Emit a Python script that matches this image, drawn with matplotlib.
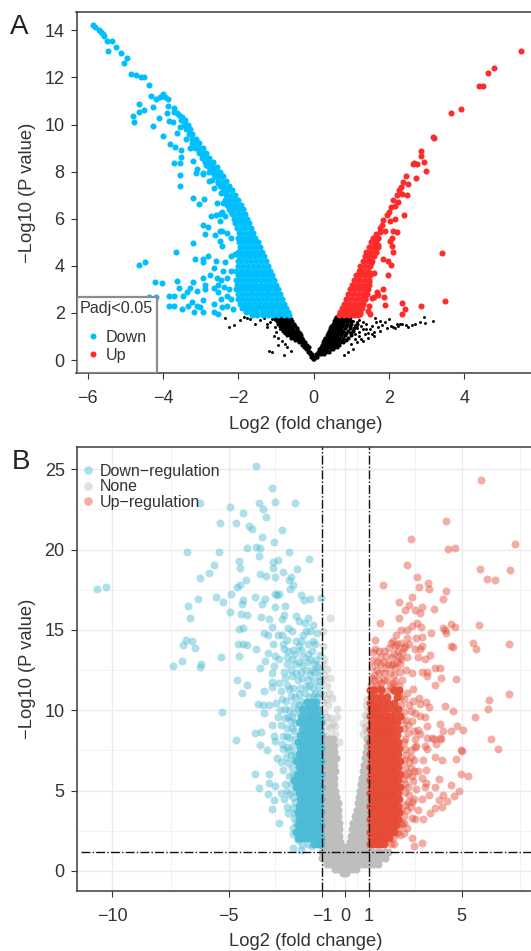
import numpy as np
import matplotlib
matplotlib.use("Agg")
import matplotlib.pyplot as plt
from matplotlib.lines import Line2D
from matplotlib.patches import Rectangle

plt.rcParams["font.family"] = ["Liberation Sans", "DejaVu Sans"]

# Panel A: values (x, y)
a_down_points = [(-5.87,14.23),(-5.8,14.15),(-5.71,14.01),(-5.65,13.95),(-5.6,13.84),(-5.57,13.75),(-5.49,13.56),(-5.36,13.56),(-5.47,13.13),(-5.25,13.3),
    (-5.11,13.05),(-4.96,12.84),(-5.04,12.6),(-4.85,12.16),(-4.71,12.09),(-4.58,12.04),(-4.52,12.0),(-4.38,11.7),(-4.32,11.22),(-4.18,11.1),
    (-3.99,11.3),(-4.08,11.15),(-3.87,11.08),(-3.95,11.18),(-3.86,10.79),(-3.72,10.69),(-3.63,10.48),(-3.5,10.33),(-3.7,10.55),(-3.57,10.42),
    (-4.63,10.87),(-4.81,10.38),(-4.77,10.11),(-4.63,10.52),(-4.52,10.6),(-4.28,10.74),(-4.28,9.94),(-4.1,10.26),(-3.9,10.47),(-3.84,10.16),
    (-3.75,10.11),(-4.0,9.51),(-3.64,9.63),(-3.54,9.88),(-3.81,9.17),(-3.68,9.06),(-3.52,8.9),(-3.52,8.61),(-3.55,8.38),(-3.72,8.37),
    (-3.55,7.86),(-3.55,7.4),(-3.21,8.44),(-3.1,8.1),(-3.12,7.95),(-3.21,6.89),(-3.04,6.62),(-2.91,6.85),(-3.4,9.4),(-3.28,9.0),
    (-2.93,7.9),(-2.77,7.6),(-2.64,7.3),(-2.47,7.1),(-2.56,6.65),(-2.4,6.65),(-2.43,6.3),(-2.72,6.1),(-2.5,6.2),(-2.2,6.3),
    (-3.05,8.9),(-2.95,8.6),(-2.85,8.3),(-2.95,7.95),(-2.78,8.0),(-2.65,7.9),(-2.7,7.65),(-2.55,7.5),(-2.6,6.15),(-2.35,6.1),
    (-4.64,4.03),(-4.48,4.15),(-3.66,4.6),(-4.21,3.3),(-4.02,3.26),(-4.37,2.69),(-4.18,2.66),(-3.85,2.73),(-3.72,2.73),(-3.84,2.29),
    (-3.72,2.3),(-3.5,2.15),(-3.62,3.36),(-3.57,3.07),(-3.46,2.72),(-3.37,2.9),(-3.28,3.04),(-3.21,3.32),(-3.11,2.94),(-3.24,2.47),
    (-3.33,2.3),(-3.17,2.05),(-3.11,2.3),(-3.01,2.27),(-2.93,2.55),(-2.93,2.02),(-2.9,3.2),(-2.93,3.5),(-3.15,4.3),(-3.2,4.96),
    (-2.93,4.15),(-2.95,4.28),(-2.82,4.42),(-2.59,4.22),(-2.66,3.9),(-2.75,3.6),(-2.58,3.47),(-2.66,3.05),(-2.88,3.0),(-2.53,2.9),
    (-2.66,2.4),(-2.66,2.05),(-2.53,1.95),(-2.44,2.25),(-2.38,3.1),(-2.4,3.8),(-2.36,4.15),(-2.2,4.4),(-2.94,5.73),(-2.81,5.65),
    (-2.88,5.35),(-2.62,5.3),(-2.5,5.5),(-2.44,5.5),(-2.3,5.4),(-2.5,5.05),(-2.43,4.85),(-2.2,5.2),(-2.5,5.9),(-2.1,4.5),
    (-2.3,3.5),(-2.25,3.0),(-2.2,2.6),(-2.3,2.3),(-2.15,2.15),(-2.45,3.4),(-2.55,3.2),(-2.2,3.8),(-2.45,2.6),(-2.3,2.7)]

a_down_rows = [(1.9,[-.66,-.8,-.94,-1.08,-1.22,-1.36,-1.5,-1.64]),(2.05,[-.68,-.82,-.96,-1.1,-1.24,-1.38,-1.52,-1.66,-1.8]),
    (2.2,[-.73,-.86,-.99,-1.12,-1.25,-1.38,-1.51,-1.64,-1.77,-1.9]),(2.4,[-.78,-.91,-1.04,-1.17,-1.3,-1.43,-1.56,-1.69,-1.82,-1.95]),
    (2.6,[-.84,-.97,-1.1,-1.23,-1.36,-1.49,-1.62,-1.75,-1.88,-2.0]),(2.8,[-.89,-1.02,-1.15,-1.28,-1.41,-1.54,-1.67,-1.8,-1.93,-2.02]),
    (3.0,[-.95,-1.08,-1.21,-1.34,-1.47,-1.6,-1.73,-1.86,-1.99,-2.07]),(3.2,[-1.0,-1.13,-1.26,-1.39,-1.52,-1.65,-1.78,-1.91,-2.04]),
    (3.4,[-1.05,-1.18,-1.31,-1.44,-1.57,-1.7,-1.83,-1.96,-2.07]),(3.6,[-1.11,-1.24,-1.37,-1.5,-1.63,-1.76,-1.89,-2.02]),
    (3.8,[-1.16,-1.29,-1.42,-1.55,-1.68,-1.81,-1.94,-2.06]),(4.0,[-1.22,-1.35,-1.48,-1.61,-1.74,-1.87,-2.0]),
    (4.2,[-1.27,-1.4,-1.53,-1.66,-1.79,-1.92,-2.02]),(4.4,[-1.33,-1.46,-1.59,-1.72,-1.85,-1.98]),
    (4.6,[-1.38,-1.51,-1.64,-1.77,-1.9,-2.01]),(4.8,[-1.44,-1.57,-1.7,-1.83,-1.95]),(5.0,[-1.49,-1.62,-1.75,-1.88,-1.98]),
    (5.2,[-1.55,-1.68,-1.81,-1.94,-2.02]),(5.4,[-1.6,-1.73,-1.86,-1.98]),(5.6,[-1.66,-1.79,-1.92,-2.05]),(5.8,[-1.71,-1.84,-1.97,-2.08]),
    (6.0,[-1.77,-1.9,-2.03,-2.12]),(6.2,[-1.82,-1.95,-2.08,-2.18]),(6.4,[-1.88,-2.01,-2.14,-2.25]),(6.6,[-1.94,-2.07,-2.2,-2.3]),
    (6.8,[-2.0,-2.13,-2.26,-2.36]),(7.0,[-2.08,-2.21,-2.34]),(7.2,[-2.16,-2.29,-2.42]),(7.4,[-2.24,-2.37,-2.48]),(7.6,[-2.32,-2.45,-2.55]),
    (7.8,[-2.4,-2.53,-2.62]),(8.0,[-2.48,-2.6,-2.7]),(8.2,[-2.57,-2.68,-2.78]),(8.4,[-2.67,-2.78,-2.88]),(8.6,[-2.77,-2.87,-2.97]),
    (8.8,[-2.86,-2.97,-3.06]),(9.0,[-2.95,-3.06,-3.15]),(9.2,[-3.04,-3.14,-3.24]),(9.4,[-3.13,-3.23]),(9.6,[-3.22,-3.32]),(9.8,[-3.28,-3.38]),
    (10.0,[-3.35,-3.45]),(10.2,[-3.43,-3.53])]

a_up_points = [(5.5,13.12),(4.8,12.4),(4.63,12.19),(4.38,11.63),(4.5,11.63),(3.91,10.67),(3.65,10.47),(3.16,9.48),(3.19,9.43),(2.85,8.89),
    (2.85,8.67),(2.92,8.41),(2.63,8.32),(2.67,8.35),(2.73,8.31),(2.99,8.04),(2.71,7.74),(2.44,7.83),(2.38,7.56),(2.51,7.47),
    (2.33,7.35),(2.27,7.2),(2.49,7.03),(2.2,7.0),(2.35,7.05),(2.1,6.8),(2.25,6.7),(2.17,6.55),(2.05,6.5),(2.0,6.3),
    (2.4,6.14),(2.16,5.97),(1.94,6.15),(1.85,5.95),(2.03,5.9),(1.8,5.75),(1.88,5.5),(1.75,5.45),(1.66,5.35),(2.1,5.5),
    (2.22,5.42),(2.07,5.2),(2.03,5.05),(2.09,4.85),(2.11,4.6),(3.41,4.53),(3.48,2.52),(1.83,4.27),(1.98,4.2),(2.04,4.05),
    (1.97,3.6),(1.6,3.7),(1.84,3.03),(1.67,2.9),(1.6,2.68),(1.86,2.68),(1.55,2.62),(1.72,2.75),(1.9,2.32),(2.35,2.42),
    (2.42,2.15),(2.34,1.95),(2.84,2.3),(1.48,2.3),(1.44,2.1),(1.5,1.95),(1.22,1.95),(1.27,2.2),(1.75,5.6),(1.7,5.2),
    (1.55,5.05),(1.62,5.0),(1.7,4.9),(1.65,4.6),(1.58,4.4),(1.52,4.1),(1.5,3.7),(1.48,3.3),(1.35,2.6),(1.4,2.8)]

a_up_rows = [(1.9,[.67,.8,.93,1.06,1.18]),(2.05,[.71,.84,.97,1.1,1.23]),(2.2,[.75,.88,1.01,1.14]),(2.4,[.81,.94,1.07,1.2,1.3]),
    (2.6,[.86,.99,1.12,1.25,1.36]),(2.8,[.92,1.05,1.18,1.31,1.42]),(3.0,[.97,1.1,1.23,1.36,1.45]),(3.2,[1.02,1.15,1.28,1.41,1.47]),
    (3.4,[1.08,1.21,1.34,1.47]),(3.6,[1.13,1.26,1.39,1.49]),(3.8,[1.19,1.32,1.45]),(4.0,[1.24,1.37,1.5]),(4.2,[1.3,1.43,1.56]),
    (4.4,[1.35,1.48,1.6]),(4.6,[1.4,1.53,1.66]),(4.8,[1.46,1.59,1.72]),(5.0,[1.52,1.65]),(5.2,[1.58,1.7])]

a_none_points = [(-2.36,1.8),(-2.24,1.4),(-2.12,1.5),(-1.97,1.7),(-1.84,1.83),(-1.78,1.78),(-1.7,1.75),(-1.55,1.55),(-1.42,1.7),(-1.33,1.77),
    (-1.24,1.55),(-1.24,1.4),(-1.06,1.0),(-.96,.65),(-1.2,.4),(-1.1,.35),(-.78,.2),(-.9,1.3),(-1.03,1.4),(-1.16,1.6),
    (-1.1,1.75),(-1.0,1.2),(-.95,.95),(-.85,.8),(-.75,.7),(-.7,.55),(-.6,.4),
    (3.18,1.66),(2.93,1.83),(2.95,1.58),(2.83,1.62),(2.7,1.55),(2.6,1.5),(2.44,1.5),(2.3,1.55),(2.2,1.55),
    (2.1,1.4),(1.95,1.35),(1.75,1.25),(1.6,1.2),(1.45,.95),(1.6,1.0),(2.0,1.75),(1.62,1.8),(1.8,1.5),(1.9,1.6),
    (2.05,1.45),(2.15,1.35),(2.25,1.45),(2.35,1.55),(2.5,1.42),(1.7,1.4),(1.55,1.45),(1.4,1.55),(1.3,1.6),(1.2,1.7),
    (1.5,1.3),(1.35,1.1),(1.25,.9),(1.4,1.3),(1.65,1.6),(1.75,1.65),(1.3,1.3),(1.2,1.2),(1.15,.75),(1.05,.45),(.9,.35),(.8,.2),
    (1.1,1.5),(1.15,1.35),(1.1,1.1),(1.2,1.0),(1.3,.8),(1.05,1.65),(1.15,1.6),(1.25,1.45),(1.45,1.15),(1.55,1.1),(1.1,.9),(1.0,.7)]

a_none_rows = [(.05,[-.02,.02]),(.15,[-.06,0,.06,.1]),(.25,[-.1,-.05,.07,.13,.2,.26]),(.35,[-.15,-.09,.12,.18,.25,.32,.4]),
    (.45,[-.2,-.14,.15,.22,.29,.36,.45,.52]),(.55,[-.26,-.19,-.13,.18,.25,.32,.39,.47,.55,.62]),(.65,[-.31,-.25,-.18,.21,.28,.35,.42,.5,.58,.68]),
    (.75,[-.38,-.31,-.24,.24,.31,.38,.45,.53,.61,.7,.78]),(.85,[-.5,-.42,-.35,-.28,.28,.35,.42,.49,.57,.65,.74,.85]),
    (.95,[-.6,-.52,-.45,-.38,-.31,.31,.38,.45,.52,.6,.68,.78,.9]),(1.05,[-.7,-.62,-.55,-.48,-.41,-.34,.34,.41,.48,.55,.63,.72,.84,.98]),
    (1.15,[-.76,-.68,-.6,-.52,-.44,-.37,.37,.44,.51,.58,.66,.75,.86,1.0]),(1.25,[-.82,-.74,-.66,-.58,-.5,-.41,.4,.47,.54,.61,.69,.78,.9,1.05]),
    (1.35,[-.86,-.78,-.7,-.62,-.54,-.45,.44,.51,.58,.65,.73,.82,.95,1.08]),(1.45,[-.9,-.82,-.74,-.66,-.58,-.49,.47,.54,.61,.68,.76,.85,.97,1.12]),
    (1.55,[-.94,-.86,-.78,-.7,-.62,-.53,.5,.57,.64,.71,.79,.88,1.0,1.15]),(1.65,[-.98,-.9,-.82,-.74,-.66,-.57,.54,.61,.68,.75,.82,.9,1.0]),
    (1.75,[-1.02,-.94,-.86,-.78,-.7,-.6,.57,.64,.71,.78,.85,.93]),(1.82,[-1.05,-.97,-.89,-.81,-.73,-.65,.6,.67,.74,.81,.88,.95])]

# Panel B: values (x, y)
b_down_points = [(-3.85,25.23),(-3.15,23.83),(-3.69,22.92),(-3.0,22.96),(-2.16,22.88),(-3.52,22.5),(-3.42,22.0),(-4.4,22.26),(-4.96,22.63),(-6.24,22.9),
    (-4.7,21.68),(-5.39,21.63),(-4.13,21.47),(-4.02,21.26),(-2.72,21.2),(-3.58,20.78),(-3.05,20.5),(-4.23,20.12),(-3.83,20.16),(-3.66,20.12),
    (-6.81,19.85),(-5.42,19.87),(-2.4,19.87),(-3.7,19.58),(-4.56,19.28),(-3.09,19.25),(-2.9,19.35),(-1.54,19.41),(-5.62,19.06),(-4.52,18.85),
    (-3.09,18.85),(-2.06,18.8),(-5.84,18.56),(-6.25,18.25),(-3.67,18.45),(-3.42,18.35),(-3.0,18.29),(-2.67,18.58),(-2.33,18.29),(-2.4,18.08),
    (-4.25,18.08),(-4.52,17.79),(-4.63,17.66),(-2.26,17.79),(-2.37,17.52),(-10.67,17.54),(-10.26,17.64),(-4.89,17.25),(-3.02,17.25),(-2.83,17.25),
    (-2.92,17.2),(-3.88,17.06),(-1.9,17.2),(-1.04,17.0),(-5.55,17.02),(-6.34,16.94),(-3.46,16.94),(-4.38,16.85),(-1.51,16.94),(-1.77,16.83),
    (-5.25,16.73),(-4.45,16.58),(-3.57,16.58),(-3.03,16.41),(-2.57,16.48),(-6.75,16.48),(-4.96,16.13),(-4.49,15.96),(-4.23,15.92),(-3.63,15.82),
    (-6.68,15.76),(-3.26,15.65),(-2.63,15.92),(-2.73,15.65),(-2.12,15.87),(-1.59,15.71),(-2.0,15.55),(-1.75,15.4),(-3.13,15.2),(-4.38,15.13),
    (-4.58,15.03),(-1.51,14.9),(-3.48,14.78),(-3.3,14.7),(-2.9,14.7),(-2.72,14.7),(-1.83,14.66),(-2.1,14.33),(-2.52,14.4),(-1.37,14.33),
    (-6.84,14.4),(-6.59,14.3),(-6.97,14.05),(-6.46,13.9),(-4.59,14.13),(-4.41,14.1),(-4.23,14.05),(-3.1,14.15),(-2.67,14.15),(-1.9,14.3),
    (-3.83,13.82),(-2.64,13.8),(-2.26,13.77),(-1.9,13.77),(-1.45,13.67),(-3.3,13.55),(-3.0,13.4),(-1.1,13.45),(-4.58,13.36),(-5.32,13.3),
    (-7.02,13.07),(-6.18,12.86),(-7.38,12.74),(-6.23,12.7),(-2.85,13.2),(-2.5,13.3),(-2.28,13.2),(-2.0,13.0),(-1.5,13.2),(-3.44,13.05),
    (-3.65,12.65),(-3.05,12.75),(-2.65,12.4),(-2.35,12.5),(-1.7,12.5),(-1.35,12.4),(-3.15,12.3),(-4.63,11.85),(-4.2,11.6),(-4.45,11.1),
    (-3.5,11.2),(-3.15,11.75),(-3.15,11.45),(-5.28,9.87),(-3.76,10.39),(-3.52,10.35),(-3.49,9.8),(-3.26,10.3),(-2.99,10.45),(-3.15,9.05),
    (-3.87,8.58),(-3.63,8.65),(-4.69,8.13),(-3.66,7.85),(-3.38,7.55),(-3.06,8.4),(-3.02,8.1),(-2.69,8.4),(-2.66,7.6),(-2.95,7.0),
    (-3.89,6.05),(-3.27,6.05),(-3.27,5.47),(-3.7,5.13),(-3.3,4.8),(-3.03,5.3),(-2.78,4.85),(-3.05,4.4),(-2.63,4.5),(-3.13,3.85),
    (-2.86,3.0),(-2.52,4.0),(-2.45,3.6),(-2.25,4.6),(-2.25,2.65),(-2.25,2.3),(-2.25,1.4),(-1.9,1.3),(-2.6,5.4),(-2.66,6.3),
    (-2.4,5.9),(-2.8,10.0),(-2.6,9.5),(-2.75,9.1),(-2.5,8.9),(-2.35,9.3),(-2.55,10.6),(-2.35,10.9),(-2.75,11.2),(-2.5,11.6),
    (-2.25,11.4),(-2.05,11.9),(-1.85,12.0),(-1.6,11.9),(-1.35,11.8),(-1.15,12.1),(-2.85,11.7),(-2.6,12.0),(-2.3,12.1),(-2.1,12.3),
    (-1.9,12.4),(-1.5,12.2),(-1.2,12.7),(-1.6,13.0),(-1.8,13.3),(-2.15,13.5),(-2.45,13.7),(-1.25,13.1),(-2.4,8.3),(-2.5,7.7),
    (-2.35,7.2),(-2.45,6.7),(-2.3,6.4),(-2.55,7.1),(-2.4,4.8),(-2.5,5.0),(-2.35,5.4),(-2.25,3.9),(-2.2,3.3),(-2.3,8.9),
    (-1.2,14.8),(-1.4,15.3),(-1.6,14.1),(-2.3,14.9),(-2.45,15.1),(-1.15,11.5),(-1.3,11.1),(-1.55,11.5),(-1.75,11.1),(-2.0,11.0),(-2.2,10.4),(-1.9,10.6)]

# extra blue marks around the dense block
b_down_fringe = [(-2.2,9.9),(-2.05,10.1),(-2.3,9.6),(-2.15,9.2),(-2.2,8.7),(-2.15,8.2),(-2.25,7.8),(-2.15,7.3),(-2.2,6.9),(-2.25,6.0),
    (-2.2,5.6),(-2.15,5.0),(-2.15,4.3),(-2.15,3.6),(-2.1,3.0),(-2.05,1.9),(-1.85,1.6),(-1.6,1.65),(-1.45,1.55),(-2.0,10.3),
    (-1.75,10.4),(-1.55,10.8),(-1.4,10.9),(-1.2,10.8),(-1.1,11.1),(-1.7,11.5),(-1.4,11.4),(-2.15,10.8),(-1.95,11.4),(-1.1,11.8),
    (-1.45,12.5),(-1.85,12.8),(-2.15,12.9),(-2.5,12.9),(-1.1,12.5),(-1.3,12.9),(-1.6,13.5),(-2.0,14.0),(-1.3,14.1),(-1.7,14.9),
    (-2.4,11.3),(-2.7,10.7),(-2.6,10.1),(-2.4,10.0),(-2.9,9.6),(-2.45,9.6),(-2.5,8.4),(-2.7,7.9),(-2.4,7.5),(-2.75,6.8)]

b_down_rows = [(1.65,[-1.03,-1.18,-1.33]),(2.05,[-1.03,-1.18,-1.33,-1.48,-1.63,-1.78,-1.93,-2.05]),(2.45,[-1.1,-1.25,-1.4,-1.55,-1.7,-1.85,-2.0,-2.1]),
    (2.85,[-1.03,-1.18,-1.33,-1.48,-1.63,-1.78,-1.93,-2.05]),(3.25,[-1.1,-1.25,-1.4,-1.55,-1.7,-1.85,-2.0]),(3.65,[-1.03,-1.18,-1.33,-1.48,-1.63,-1.78,-1.93,-2.05]),
    (4.05,[-1.1,-1.25,-1.4,-1.55,-1.7,-1.85,-2.0]),(4.45,[-1.03,-1.18,-1.33,-1.48,-1.63,-1.78,-1.93]),(4.85,[-1.1,-1.25,-1.4,-1.55,-1.7,-1.85,-2.0]),
    (5.25,[-1.03,-1.18,-1.33,-1.48,-1.63,-1.78,-1.93,-2.1]),(5.65,[-1.1,-1.25,-1.4,-1.55,-1.7,-1.85,-2.0,-2.2]),(6.05,[-1.03,-1.18,-1.33,-1.48,-1.63,-1.78,-1.93,-2.08]),
    (6.45,[-1.1,-1.25,-1.4,-1.55,-1.7,-1.85,-2.0]),(6.85,[-1.03,-1.18,-1.33,-1.48,-1.63,-1.78,-1.93,-2.1]),(7.25,[-1.1,-1.25,-1.4,-1.55,-1.7,-1.85,-2.0]),
    (7.65,[-1.03,-1.18,-1.33,-1.48,-1.63,-1.78,-1.93]),(8.05,[-1.1,-1.25,-1.4,-1.55,-1.7,-1.85,-2.05]),(8.45,[-1.03,-1.18,-1.33,-1.48,-1.63,-1.78,-1.95]),
    (8.85,[-1.1,-1.25,-1.4,-1.55,-1.7,-1.85]),(9.25,[-1.03,-1.18,-1.33,-1.48,-1.63,-1.8,-2.0]),(9.65,[-1.1,-1.25,-1.4,-1.55,-1.7,-1.9]),
    (10.05,[-1.18,-1.33,-1.48,-1.63,-1.85]),(10.5,[-1.25,-1.45,-1.65])]

b_up_points = [(5.84,24.33),(4.32,21.8),(2.8,20.68),(4.42,20.01),(4.71,20.09),(7.28,20.36),(2.63,19.03),(5.8,18.76),(7.05,18.7),(6.08,18.16),
    (6.42,18.12),(3.08,18.3),(3.54,17.93),(1.63,17.79),(3.16,17.64),(3.6,17.52),(4.32,17.4),(2.85,17.04),(2.3,16.75),(4.19,16.91),
    (2.75,16.52),(3.28,16.44),(2.56,16.21),(2.99,16.23),(3.82,16.31),(3.2,16.06),(2.29,15.71),(1.49,15.44),(3.09,15.44),(3.25,15.19),
    (2.85,15.25),(2.63,15.0),(2.41,15.0),(4.21,15.13),(4.52,15.34),(4.69,15.2),(4.28,14.97),(4.32,14.78),(5.73,15.29),(3.68,14.8),
    (2.18,14.71),(2.06,14.3),(3.31,14.55),(3.03,14.5),(2.63,14.5),(1.29,14.34),(3.27,14.0),(5.48,14.19),(5.62,13.84),(7.03,14.11),
    (4.55,14.0),(4.63,13.93),(1.29,13.84),(1.44,13.7),(1.65,13.7),(1.87,13.9),(3.0,13.8),(3.2,13.8),(3.65,13.45),(1.2,13.15),
    (3.4,13.2),(3.1,13.3),(2.0,13.3),(2.4,13.2),(3.85,12.64),(4.07,12.64),(3.3,12.4),(3.5,12.35),(3.5,12.1),(4.09,12.0),
    (4.74,11.97),(3.85,11.6),(7.03,11.0),(6.17,10.66),(6.12,10.07),(5.57,9.58),(4.28,10.29),(4.61,9.93),(3.16,10.75),(3.45,10.5),
    (3.6,10.2),(3.2,10.4),(2.8,9.95),(3.0,9.8),(3.2,9.65),(3.4,9.55),(2.7,9.1),(3.5,9.0),(4.07,9.15),(4.2,8.7),
    (4.55,8.7),(4.8,9.0),(5.05,8.8),(3.1,8.75),(3.2,8.5),(3.5,8.25),(3.7,8.25),(4.1,8.2),(3.9,7.9),(6.25,8.2),
    (6.55,7.6),(4.95,7.5),(3.0,8.2),(2.55,8.2),(3.05,7.8),(3.4,7.8),(5.0,7.44),(4.74,6.96),(4.14,6.88),(4.97,6.05),
    (5.28,5.92),(4.52,5.36),(4.0,5.7),(4.89,4.99),(4.68,4.68),(4.38,4.32),(4.14,3.95),(3.85,3.9),(3.65,3.6),(3.35,3.25),
    (3.0,3.2),(4.0,4.4),(4.2,4.7),(3.85,5.2),(3.4,5.2),(3.05,5.1),(3.3,5.8),(3.45,5.5),(2.95,4.5),(3.3,4.5),
    (3.6,4.7),(2.65,3.8),(3.1,3.8),(2.4,3.75),(2.8,6.4),(3.1,6.2),(3.45,6.3),(3.85,7.1),(3.35,6.9),(2.95,6.9),
    (3.0,7.7),(3.5,7.6),(3.8,8.2),(4.05,8.3),(2.75,4.7),(2.7,5.2),(3.3,1.75),(2.95,1.55),(2.85,2.05),(2.5,2.35),
    (2.35,2.25),(2.1,1.65),(2.65,2.7),(2.6,6.0),(2.75,6.8),(2.6,7.2),(2.8,7.5),(2.7,8.6),(2.6,9.4),(2.75,10.3),
    (2.5,10.7),(2.65,11.1),(2.9,11.3),(2.45,11.9),(2.6,12.5),(2.85,12.3),(2.2,13.0),(2.65,13.3),(1.7,12.6),(1.5,12.9),
    (1.35,12.5),(2.1,12.2),(2.35,12.4),(2.25,13.7),(2.5,13.9),(2.55,14.0),(2.4,14.2),(2.75,14.1),(2.15,14.0),(1.95,12.8),
    (1.25,12.2),(1.8,11.9),(2.3,11.5),(2.05,11.7),(1.55,11.7),(1.3,11.5),(2.9,10.6),(2.55,5.4),(2.7,4.3),(2.5,3.0)]

# extra red marks around the dense block
b_up_fringe = [(2.45,2.9),(2.5,3.4),(2.55,4.1),(2.55,4.9),(2.5,5.7),(2.55,6.4),(2.5,6.9),(2.55,7.6),(2.5,8.0),(2.5,8.9),
    (2.45,9.4),(2.5,9.9),(2.4,10.3),(2.35,10.8),(2.3,11.1),(2.4,3.0),(2.3,2.7),(2.2,2.35),(2.05,2.05),(1.95,1.7),
    (2.85,3.3),(2.8,4.0),(2.85,4.3),(2.9,5.6),(2.85,5.9),(2.95,6.2),(2.7,6.1),(2.8,7.1),(2.95,8.7),(2.85,9.3),
    (1.1,11.6),(1.25,11.9),(1.45,11.9),(1.65,11.9),(1.9,11.5),(2.1,11.2),(1.15,12.0),(1.45,12.3),(1.65,12.3),(1.9,12.3),
    (2.15,12.6),(2.35,12.9),(1.15,12.7),(1.35,13.0),(1.65,13.0),(1.85,12.9),(2.05,12.9),(2.3,13.3),(2.45,13.6),(2.1,13.5),
    (1.75,13.4),(1.5,13.3),(1.2,13.6),(1.55,11.4),(1.8,11.2),(1.35,11.3),(2.0,11.4),(2.15,11.8),(2.2,14.1),(1.95,14.2)]

b_up_rows = [(1.65,[1.05,1.2,1.35,1.5,1.65]),(2.05,[1.12,1.27,1.42,1.57,1.72,1.87]),(2.45,[1.05,1.2,1.35,1.5,1.65,1.8,1.95,2.1]),
    (2.85,[1.12,1.27,1.42,1.57,1.72,1.87,2.02,2.17]),(3.25,[1.05,1.2,1.35,1.5,1.65,1.8,1.95,2.1,2.25]),(3.65,[1.12,1.27,1.42,1.57,1.72,1.87,2.02,2.17,2.3]),
    (4.05,[1.05,1.2,1.35,1.5,1.65,1.8,1.95,2.1,2.25]),(4.45,[1.12,1.27,1.42,1.57,1.72,1.87,2.02,2.17,2.32]),(4.85,[1.05,1.2,1.35,1.5,1.65,1.8,1.95,2.1,2.25]),
    (5.25,[1.12,1.27,1.42,1.57,1.72,1.87,2.02,2.17,2.35]),(5.65,[1.05,1.2,1.35,1.5,1.65,1.8,1.95,2.1,2.25]),(6.05,[1.12,1.27,1.42,1.57,1.72,1.87,2.02,2.17,2.35]),
    (6.45,[1.05,1.2,1.35,1.5,1.65,1.8,1.95,2.1,2.25]),(6.85,[1.12,1.27,1.42,1.57,1.72,1.87,2.02,2.17,2.35]),(7.25,[1.05,1.2,1.35,1.5,1.65,1.8,1.95,2.1,2.25]),
    (7.65,[1.12,1.27,1.42,1.57,1.72,1.87,2.02,2.17,2.3]),(8.05,[1.05,1.2,1.35,1.5,1.65,1.8,1.95,2.1,2.25]),(8.45,[1.12,1.27,1.42,1.57,1.72,1.87,2.02,2.2]),
    (8.85,[1.05,1.2,1.35,1.5,1.65,1.8,1.95,2.1,2.3]),(9.25,[1.12,1.27,1.42,1.57,1.72,1.87,2.02,2.2]),(9.65,[1.05,1.2,1.35,1.5,1.65,1.8,1.95,2.15,2.35]),
    (10.05,[1.12,1.27,1.42,1.6,1.8,2.05,2.25]),(10.45,[1.05,1.2,1.4,1.6,1.85,2.1]),(10.85,[1.1,1.3,1.55,1.8,2.2]),(11.25,[1.05,1.25,1.55,2.1,2.3])]

b_none_points = [(-.65,15.75),(-.97,14.95),(-.8,12.55),(-.65,12.0),(-.8,11.5),(-.58,10.75),(-.37,10.1),(-.73,10.3),(-.37,9.6),(-.65,9.5),
    (-.44,9.0),(-.65,8.9),(-.44,8.5),(-.27,8.0),(.9,10.3),(.83,9.7),(.77,9.2),(.77,8.5),(-.9,12.2),(-.95,11.0),
    (-.85,10.7),(-.9,9.9),(-.8,9.6),(-.95,9.3),(-.55,9.2),(-.8,9.0),(.95,9.6),(.9,9.0),(.95,8.7),(.85,8.9),
    (-.95,14.0),(-.9,13.2),(-.98,12.9),(-.95,11.9),(-.7,11.1),(-.95,10.5),(.95,10.7),(.97,10.0),(-.95,8.6),(-.75,8.4)]

b_none_rows = [(-.12,[-.1,.05]),(.15,[-.45,-.3,-.15,0,.15,.3,.45]),(.45,[-.8,-.65,-.5,-.35,-.2,-.05,.1,.25,.4,.55,.7,.85,1.0,1.2,1.4]),
    (.8,[-1.02,-.83,-.68,-.53,-.38,-.23,-.08,.07,.22,.37,.52,.67,.82,.97,1.12,1.3,1.5,1.7]),(1.15,[-1.02,-.83,-.68,-.53,-.38,-.23,-.08,.07,.22,.37,.52,.67,.82,.97,1.12,1.3,1.5,1.7,1.85]),
    (1.5,[-.98,-.83,-.68,-.53,-.38,-.23,-.08,.07,.22,.37,.52,.67,.82,.97]),(1.8,[-.98,-.83,-.68,-.53,-.38,-.23,.22,.37,.52,.67,.82,.97]),
    (2.2,[-.98,-.83,-.68,-.53,-.38,-.26,.24,.37,.52,.67,.82,.97]),(2.6,[-.98,-.83,-.68,-.53,-.38,-.26,.27,.4,.55,.7,.85,.97]),
    (3.0,[-.98,-.83,-.68,-.53,-.38,-.28,.33,.46,.6,.75,.9]),(3.4,[-.98,-.83,-.68,-.53,-.4,-.3,.4,.53,.67,.8,.95]),
    (3.8,[-.98,-.83,-.68,-.53,-.42,-.3,.48,.6,.74,.87,.98]),(4.2,[-.98,-.83,-.68,-.53,-.42,-.3,.53,.66,.8,.93]),
    (4.6,[-.98,-.83,-.68,-.55,-.42,.58,.7,.83,.96]),(5.0,[-.98,-.83,-.68,-.55,-.45,.63,.75,.88,.98]),
    (5.4,[-.98,-.83,-.68,-.55,-.47,.68,.8,.92]),(5.8,[-.98,-.83,-.68,-.57,-.47,.73,.85,.97]),(6.2,[-.98,-.83,-.7,-.55,-.45,.77,.88,.98]),
    (6.6,[-.98,-.83,-.7,-.58,-.47,.82,.92]),(7.0,[-.95,-.8,-.65,-.5,-.42,.86,.96]),(7.4,[-.95,-.8,-.65,-.5,.9,.98]),(7.8,[-.92,-.77,-.62,-.47,.92]),(8.2,[-.9,-.7,-.55,.95])]

a_xticks = [-6, -4, -2, 0, 2, 4]
a_yticks = [0, 2, 4, 6, 8, 10, 12, 14]
b_xticks = [-10, -5, -1, 0, 1, 5]
b_yticks = [0, 5, 10, 15, 20, 25]
b_xminor = [-7.5, -3, -0.5, 0.5, 3, 7.5]
b_yminor = [2.5, 7.5, 12.5, 17.5, 22.5]


def flat(points, rows):
    # rows hold one y with several x, points are plain (x, y)
    xs = [p[0] for p in points]
    ys = [p[1] for p in points]
    for y, row in rows:
        xs += row
        ys += [y] * len(row)
    return xs, ys


W, H = 531, 951
TEXT = "#333333"


def make_axes(left, right, top, bottom):
    return fig.add_axes([left / W, 1 - bottom / H, (right - left) / W, (bottom - top) / H])


def style_axes(ax):
    ax.spines["right"].set_visible(False)
    for s in ["left", "top", "bottom"]:
        ax.spines[s].set_linewidth(1.1)
        ax.spines[s].set_color("#3a3a3a")
    ax.tick_params(labelsize=13, colors=TEXT, length=4.5, width=0.8, pad=4)
    ax.tick_params(axis="x", pad=7.5)
    ax.set_xlabel("Log2 (fold change)", fontsize=13.2, color=TEXT)
    ax.set_ylabel("\u2212Log10 (P value)", fontsize=13.2, color=TEXT)
    ax.yaxis.set_label_coords(-0.09, 0.5)


fig = plt.figure(figsize=(W / 100, H / 100), dpi=100)

# Panel A
ax1 = make_axes(76.5, 531, 12, 373)
x, y = flat(a_none_points, [])
ax1.scatter(x, y, s=4.5, color="black", linewidths=0, zorder=2)
x, y = flat([], a_none_rows)
ax1.scatter(x, y, s=9, color="black", linewidths=0, zorder=2)
x, y = flat(a_down_points, a_down_rows)
ax1.scatter(x, y, s=19, color="#00BFFF", linewidths=0, zorder=3)
x, y = flat(a_up_points, a_up_rows)
ax1.scatter(x, y, s=19, color="#FF2A2A", linewidths=0, zorder=3)
ax1.set_xlim(-6.3, 5.77)
ax1.set_ylim(-0.55, 14.78)
ax1.set_xticks(a_xticks)
ax1.set_yticks(a_yticks)
style_axes(ax1)
ax1.xaxis.set_label_coords(0.505, -0.118)

# legend box sits on top of the points
ax1.add_patch(Rectangle((0, 0), 80.5 / 454.5, 76 / 361, transform=ax1.transAxes, facecolor="white",
                        edgecolor="#8c8c8c", linewidth=1.6, zorder=5))
ax1.text(3.5 / 454.5, 64 / 361, "Padj<0.05", transform=ax1.transAxes, fontsize=11.6, color=TEXT, va="center", zorder=6)
handles = [Line2D([], [], marker="o", ls="", ms=4.3, mew=0, color="#00BFFF", label="Down"),
           Line2D([], [], marker="o", ls="", ms=4.3, mew=0, color="#FF2A2A", label="Up")]
leg = ax1.legend(handles=handles, loc="lower left", bbox_to_anchor=(0.0, 2 / 361), frameon=False,
                 fontsize=11.6, handlelength=1.0, handletextpad=0.32, labelspacing=0.19,
                 borderpad=0.5, borderaxespad=0.0, labelcolor=TEXT)
leg.set_zorder(6)

# Panel B
ax2 = make_axes(76.5, 531, 446.7, 891)
ax2.set_axisbelow(True)
ax2.grid(True, which="major", color="#ebebeb", linewidth=1.0)
ax2.set_xticks(b_xminor, minor=True)
ax2.set_yticks(b_yminor, minor=True)
ax2.grid(True, which="minor", color="#f0f0f0", linewidth=0.6)
ax2.tick_params(which="minor", length=0)

x, y = flat(b_none_points, [])
ax2.scatter(x, y, s=33, color="#BEBEBE", alpha=0.45, linewidths=0, zorder=2)
x, y = flat([], b_none_rows)
ax2.scatter(x, y, s=33, color="#BEBEBE", alpha=1.0, linewidths=0, zorder=2)
x, y = flat(b_down_points + b_down_fringe, [])
ax2.scatter(x, y, s=33, color="#4DBBD5", alpha=0.45, linewidths=0, zorder=3)
x, y = flat([], b_down_rows)
ax2.scatter(x, y, s=33, color="#4DBBD5", alpha=0.95, linewidths=0, zorder=3)
x, y = flat(b_up_points + b_up_fringe, [])
ax2.scatter(x, y, s=33, color="#E64B35", alpha=0.45, linewidths=0, zorder=3)
x, y = flat([], b_up_rows)
ax2.scatter(x, y, s=33, color="#E64B35", alpha=0.95, linewidths=0, zorder=3)

ax2.axvline(-1, color="#111111", lw=1.0, ls="-.", zorder=4)
ax2.axvline(1, color="#111111", lw=1.0, ls="-.", zorder=4)
ax2.axhline(1.2, xmin=0.01, color="#111111", lw=1.0, ls="-.", zorder=4)

ax2.set_xlim(-11.54, 7.97)
ax2.set_ylim(-1.25, 26.4)
ax2.set_xticks(b_xticks)
ax2.set_yticks(b_yticks)
style_axes(ax2)
ax2.xaxis.set_label_coords(0.505, -0.095)

handles = [Line2D([], [], marker="o", ls="", ms=6.2, mew=0, color="#4DBBD5", alpha=0.45, label="Down\u2212regulation"),
           Line2D([], [], marker="o", ls="", ms=6.2, mew=0, color="#BEBEBE", alpha=0.45, label="None"),
           Line2D([], [], marker="o", ls="", ms=6.2, mew=0, color="#E64B35", alpha=0.45, label="Up\u2212regulation")]
ax2.legend(handles=handles, loc="upper left", bbox_to_anchor=(0.0, 1 - 14 / 444.3), frameon=False, fontsize=11.5,
           handlelength=1.0, handletextpad=0.27, labelspacing=0.03, borderpad=0.2, borderaxespad=0.0, labelcolor=TEXT)

# panel letters
fig.text(10 / W, 1 - 34 / H, "A", fontsize=20, color="#222222", ha="left", va="baseline")
fig.text(12 / W, 1 - 469 / H, "B", fontsize=20, color="#222222", ha="left", va="baseline")

fig.savefig("out.png", dpi=100)
